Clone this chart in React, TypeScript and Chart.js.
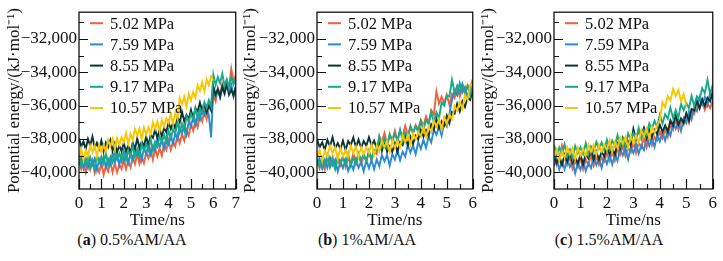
import React, { useEffect, useRef } from "react";
import { Chart, registerables } from "chart.js";

Chart.register(...registerables);

const FONT = "'Liberation Serif', 'Times New Roman', serif";

// Pressure series (legend order) and their colours
const SERIES_LABELS = ["5.02 MPa", "7.59 MPa", "8.55 MPa", "9.17 MPa", "10.57 MPa"];
const SERIES_COLORS = ["#f2603c", "#2a8ad6", "#0c3434", "#17a98a", "#f9c600"];

// Sampling interval of the trajectories (ns)
const SAMPLE_STEP_NS = 0.1;

// Axes
const Y_TICKS = [-40000, -38000, -36000, -34000, -32000];
const Y_MIN = -41000;
const Y_MAX = -30400;
const X_TICKS_A = [0, 1, 2, 3, 4, 5, 6, 7];
const X_TICKS_BC = [0, 1, 2, 3, 4, 5, 6];

const CAPTION_TAGS = ["a", "b", "c"];
const CAPTION_TEXTS = ["0.5%AM/AA", "1%AM/AA", "1.5%AM/AA"];

// ---- (a) 0.5% AM/AA, potential energy (kJ/mol), 0–7 ns ----
const A_502 = [
  -39250, -39800, -39400, -40000, -39400, -39850, -39350, -40050, -39650, -40000,
  -39450, -40150, -39600, -39950, -39350, -40000, -39450, -40000, -39550, -39800,
  -39200, -39800, -39300, -39700, -39100, -39500, -38900, -39500, -39050, -39450,
  -38800, -39150, -38650, -39250, -38600, -39050, -38550, -39000, -38300, -38650,
  -38100, -38650, -38150, -38450, -37750, -38250, -37700, -38100, -37450, -37800,
  -37100, -37500, -36900, -37300, -36550, -36950, -36300, -36800, -35850, -36200,
  -35400, -35750, -34950, -35350, -34700, -35050, -34500, -34900, -33800, -34600, -34150,
];
const A_759 = [
  -39550, -39130, -39760, -39240, -39720, -39100, -39540, -39180, -39870, -39210,
  -39600, -39070, -39690, -39210, -39530, -38850, -39370, -38990, -39560, -38880,
  -39350, -38870, -39440, -38860, -39280, -38600, -39000, -38600, -39250, -38550,
  -38900, -38340, -38930, -38420, -38710, -38000, -38480, -38060, -38590, -37870,
  -38300, -37770, -38290, -37660, -38030, -37300, -37630, -37160, -37740, -36970,
  -37250, -36640, -37180, -36620, -36860, -36100, -36550, -36100, -36600, -37900,
  -35050, -35490, -34980, -35520, -34910, -35300, -34650, -35100, -34750, -35450, -34800,
];
const A_855 = [
  -37950, -38450, -38150, -38600, -38000, -38400, -37860, -38520, -38230, -38590,
  -38100, -38730, -38210, -38490, -38070, -38700, -38270, -38790, -38410, -38730,
  -38250, -38730, -38410, -38840, -38220, -38600, -37970, -38540, -38160, -38430,
  -37850, -38380, -37760, -37940, -37420, -37950, -37420, -37840, -37360, -37580,
  -37000, -37410, -37020, -37380, -36690, -37000, -36370, -36940, -36560, -36830,
  -36250, -36780, -36160, -36340, -35820, -36350, -35900, -36400, -36000, -36300,
  -34850, -35340, -35030, -35470, -34860, -35250, -34700, -35350, -35050, -35400, -34900,
];
const A_917 = [
  -39000, -39630, -39160, -39540, -38970, -39700, -39270, -39790, -39010, -39430,
  -39050, -39470, -38840, -39560, -39080, -39400, -38820, -39240, -38860, -39330,
  -38700, -39260, -38720, -39030, -38390, -39050, -38600, -39100, -38300, -38700,
  -38300, -38680, -38010, -38690, -38170, -38450, -37820, -38190, -37760, -38180,
  -37500, -38010, -37420, -37680, -36990, -37600, -37080, -37510, -36640, -36970,
  -36500, -36840, -36130, -36770, -36210, -36450, -35790, -36130, -35670, -36050,
  -34150, -34770, -34290, -34660, -34080, -34800, -34420, -34990, -34260, -34730, -34400,
];
const A_1057 = [
  -39150, -38610, -39270, -38680, -39040, -38400, -38800, -38400, -39050, -38350,
  -38800, -38350, -38750, -38050, -38450, -38000, -38600, -37950, -38350, -37900,
  -38200, -37650, -38300, -37700, -38050, -37400, -37790, -37380, -38020, -37310,
  -37750, -37300, -37700, -37000, -37400, -36950, -37530, -36860, -37240, -36770,
  -37050, -36480, -37100, -36470, -36800, -35550, -35900, -35450, -36050, -35300,
  -35700, -35190, -35530, -34770, -35110, -34600, -35140, -34430, -34770, -34250, -34500,
];

// ---- (b) 1% AM/AA, 0–6 ns ----
const B_502 = [
  -39250, -39750, -39300, -39850, -39200, -39600, -39070, -39740, -39260, -39580,
  -39000, -39680, -39110, -39440, -38870, -39500, -38970, -39490, -39060, -39330,
  -38850, -39280, -38750, -38900, -37850, -38200, -37650, -38300, -37800, -38100,
  -37500, -38140, -37530, -37820, -37210, -37800, -37210, -37670, -37180, -37390,
  -36850, -37220, -36640, -37060, -36280, -36550, -35150, -35880, -35460, -35860,
  -35350, -35950, -35300, -35550, -34900, -35450, -34840, -35280, -34770, -34960, -34400,
];
const B_759 = [
  -39600, -39170, -39790, -39260, -39730, -39100, -39570, -39240, -39960, -39330,
  -39750, -39260, -39920, -39480, -39840, -39200, -39730, -39360, -39940, -39270,
  -39750, -39260, -39820, -39230, -39640, -38950, -39350, -38950, -39600, -38900,
  -39250, -38690, -39280, -38770, -39060, -38350, -38820, -38390, -38910, -38180,
  -38600, -38040, -38530, -37870, -38210, -37450, -37750, -37250, -37800, -37000,
  -37250, -36500, -35650, -35120, -35390, -34650, -35220, -34890, -35510, -34880, -35400,
];
const B_855 = [
  -38000, -38500, -38200, -38650, -38050, -38450, -37900, -38550, -38250, -38600,
  -38100, -38690, -38130, -38370, -37910, -38500, -38040, -38530, -38120, -38410,
  -37900, -38400, -38100, -38550, -38150, -38700, -38130, -38760, -38440, -38770,
  -38250, -38790, -38180, -38370, -37860, -38400, -37870, -38290, -37810, -38030,
  -37450, -37860, -37470, -37830, -37140, -37450, -36800, -37350, -36950, -37200,
  -36600, -37060, -36370, -36480, -35890, -36350, -35740, -36080, -35520, -35660, -35000,
];
const B_917 = [
  -39050, -39670, -39190, -39560, -38980, -39700, -39280, -39810, -39040, -39470,
  -39100, -39520, -38890, -39610, -39130, -39450, -38860, -39270, -38880, -39340,
  -38700, -39220, -38650, -38700, -37850, -38450, -38000, -38500, -37700, -38100,
  -37700, -38090, -37430, -38120, -37610, -37900, -37270, -37640, -37210, -37630,
  -36950, -37450, -36850, -37100, -36400, -37000, -36400, -36750, -35800, -36000,
  -35400, -35450, -34450, -35230, -34810, -35200, -34680, -35160, -34840, -35370, -34800,
];
const B_1057 = [
  -39200, -38650, -39300, -38700, -39050, -38400, -38850, -38500, -39200, -38550,
  -39050, -38640, -39080, -38420, -38860, -38450, -39090, -38480, -38920, -38510,
  -38850, -38310, -38970, -38380, -38740, -38100, -38510, -38120, -38780, -38090,
  -38550, -38100, -38500, -37800, -38200, -37750, -38330, -37660, -38040, -37570,
  -37850, -37270, -37890, -37260, -37580, -36900, -37260, -36820, -37430, -36690,
  -37100, -36540, -36830, -36020, -36310, -35750, -36200, -35400, -35650, -34800, -34700,
];

// ---- (c) 1.5% AM/AA, 0–6 ns ----
const C_502 = [
  -39050, -39580, -39160, -38400, -39120, -39550, -39060, -39770, -39330, -39690,
  -39150, -39820, -39240, -39560, -38980, -39600, -39050, -39550, -39100, -39350,
  -38850, -39300, -38800, -39300, -38600, -38950, -38390, -39030, -38520, -38810,
  -38200, -38840, -38230, -38520, -37910, -38500, -37910, -38370, -37880, -38090,
  -37550, -37960, -37420, -37880, -37140, -37450, -36850, -37450, -36900, -37150,
  -36500, -37030, -36310, -36500, -35750, -36200, -35700, -36250, -35850, -36150, -35700,
];
const C_759 = [
  -39600, -39190, -39830, -39320, -39810, -39200, -39670, -39340, -40060, -39430,
  -39850, -39310, -39920, -39430, -39740, -39050, -39560, -39170, -39730, -39040,
  -39500, -38990, -39530, -38920, -39310, -38600, -38990, -38580, -39220, -38510,
  -38850, -38290, -38880, -38370, -38660, -37950, -38410, -37970, -38480, -37740,
  -38150, -37600, -38100, -37450, -37800, -37050, -37390, -36930, -37520, -36760,
  -37050, -36360, -36820, -36180, -36340, -35500, -35940, -35480, -35970, -35210, -35600,
];
const C_855 = [
  -38950, -39440, -39130, -39570, -38960, -39350, -38790, -39430, -39120, -39460,
  -38950, -39520, -38940, -39160, -38680, -39250, -38760, -39220, -38780, -39040,
  -38500, -38930, -38560, -38940, -38270, -38600, -37960, -38520, -38130, -38400,
  -37400, -38020, -37490, -37760, -37330, -37950, -37450, -37900, -37450, -37700,
  -37150, -37570, -37190, -37560, -36880, -37200, -36570, -37140, -36760, -37030,
  -36450, -36900, -36200, -36300, -35700, -36150, -35610, -36020, -35530, -35740, -35150,
];
const C_917 = [
  -38350, -38980, -38510, -38890, -38320, -39050, -38640, -39180, -38420, -38860,
  -38500, -38900, -38250, -38950, -38450, -38750, -38170, -38590, -38210, -38680,
  -38050, -38620, -38090, -38410, -37780, -38450, -37990, -38480, -37670, -38060,
  -37650, -38020, -37340, -38010, -37480, -37750, -37070, -37390, -36910, -37280,
  -36550, -37080, -36510, -36790, -36120, -36750, -36270, -36740, -35910, -36280,
  -35850, -36160, -35420, -36030, -35440, -35650, -34950, -35250, -34450, -35300, -34750,
];
const C_1057 = [
  -39150, -38630, -39310, -38740, -39120, -38500, -38920, -38540, -39210, -38530,
  -39000, -38580, -39010, -38340, -38770, -38350, -38970, -38340, -38760, -38330,
  -38650, -38110, -38770, -38180, -38540, -37900, -38290, -37880, -38520, -37810,
  -38250, -37790, -38180, -37470, -37860, -37400, -37960, -37270, -37630, -37150,
  -36900, -35800, -36100, -35430, -35710, -35000, -35430, -35060, -35750, -35300, -36000,
];

type PanelSpec = {
  left: number;
  width: number;
  yAxisWidth: number;
  xMax: number;
  xTicks: number[];
  series: number[][];
};

const CANVAS_H = 231;
const PLOT_TOP = 6;
const X_AXIS_H = 42;

const PANELS: PanelSpec[] = [
  { left: 0, width: 244, yAxisWidth: 79, xMax: 7, xTicks: X_TICKS_A, series: [A_502, A_759, A_855, A_917, A_1057] },
  { left: 236, width: 245, yAxisWidth: 81, xMax: 6, xTicks: X_TICKS_BC, series: [B_502, B_759, B_855, B_917, B_1057] },
  { left: 474, width: 247, yAxisWidth: 80, xMax: 6, xTicks: X_TICKS_BC, series: [C_502, C_759, C_855, C_917, C_1057] },
];

const CAPTION_CENTERS = [132, 367, 609];

const formatEnergy = (v: number) =>
  (v < 0 ? "\u2212" : "") + Math.abs(v).toLocaleString("en-US");

// Box frame, inward major/minor ticks and the in-plot legend
const frameLegendPlugin = {
  id: "frameLegend",
  afterDraw(chart: any) {
    const { ctx, chartArea: a, scales } = chart;
    const xs = scales.x;
    const ys = scales.y;
    const xTicks: number[] = (xs.ticks || []).map((t: any) => t.value);
    ctx.save();
    ctx.strokeStyle = "#111";
    ctx.lineWidth = 1.3;
    ctx.strokeRect(a.left, a.top, a.right - a.left, a.bottom - a.top);

    ctx.lineWidth = 1.2;
    ctx.beginPath();
    xTicks.forEach((v, i) => {
      const px = Math.round(xs.getPixelForValue(v)) + 0.5;
      ctx.moveTo(px, a.bottom);
      ctx.lineTo(px, a.bottom - 10);
      if (i < xTicks.length - 1) {
        const mx = Math.round(xs.getPixelForValue((v + xTicks[i + 1]) / 2)) + 0.5;
        ctx.moveTo(mx, a.bottom);
        ctx.lineTo(mx, a.bottom - 5);
      }
    });
    Y_TICKS.forEach((v, i) => {
      const py = Math.round(ys.getPixelForValue(v)) + 0.5;
      ctx.moveTo(a.left, py);
      ctx.lineTo(a.left + 9, py);
      const next = i < Y_TICKS.length - 1 ? Y_TICKS[i + 1] : v + (v - Y_TICKS[i - 1]);
      const mid = (v + next) / 2;
      if (mid < Y_MAX) {
        const my = Math.round(ys.getPixelForValue(mid)) + 0.5;
        ctx.moveTo(a.left, my);
        ctx.lineTo(a.left + 5, my);
      }
    });
    ctx.stroke();

    ctx.font = `16.5px ${FONT}`;
    ctx.textBaseline = "middle";
    ctx.textAlign = "left";
    SERIES_LABELS.forEach((label, i) => {
      const y = a.top + 11 + i * 21.2;
      ctx.strokeStyle = SERIES_COLORS[i];
      ctx.lineWidth = 2;
      ctx.beginPath();
      ctx.moveTo(a.left + 11, y);
      ctx.lineTo(a.left + 24, y);
      ctx.stroke();
      ctx.fillStyle = "#111";
      ctx.fillText(label, a.left + 31, y + 1);
    });
    ctx.restore();
  },
};

function Panel({ spec }: { spec: PanelSpec }) {
  const ref = useRef<HTMLCanvasElement>(null);
  useEffect(() => {
    const chart: any = new Chart(ref.current!, {
      type: "line",
      data: {
        datasets: spec.series.map((vals, i) => ({
          label: SERIES_LABELS[i],
          data: vals.map((y, k) => ({ x: Math.round(k * SAMPLE_STEP_NS * 100) / 100, y })),
          borderColor: SERIES_COLORS[i],
          backgroundColor: SERIES_COLORS[i],
          borderWidth: 1.9,
          pointRadius: 0,
          tension: 0,
          order: SERIES_LABELS.length - i,
        })),
      },
      options: {
        responsive: false,
        animation: false,
        devicePixelRatio: 1,
        events: [],
        layout: { padding: { left: 0, right: 8, top: PLOT_TOP, bottom: 0 } },
        plugins: { legend: { display: false }, tooltip: { enabled: false } },
        scales: {
          x: {
            type: "linear",
            min: 0,
            max: spec.xMax,
            afterBuildTicks: (s: any) => {
              s.ticks = spec.xTicks.map((v) => ({ value: v }));
            },
            afterFit: (s: any) => {
              s.height = X_AXIS_H;
            },
            grid: { display: false, drawTicks: false },
            border: { display: false },
            ticks: { color: "#111", font: { family: FONT, size: 17 }, padding: 4, maxRotation: 0 },
            title: {
              display: true,
              text: "Time/ns",
              color: "#111",
              font: { family: FONT, size: 17 },
              padding: { top: 0, bottom: 0 },
            },
          },
          y: {
            type: "linear",
            min: Y_MIN,
            max: Y_MAX,
            afterBuildTicks: (s: any) => {
              s.ticks = Y_TICKS.map((v) => ({ value: v }));
            },
            afterFit: (s: any) => {
              s.width = spec.yAxisWidth;
            },
            grid: { display: false, drawTicks: false },
            border: { display: false },
            ticks: {
              color: "#111",
              font: { family: FONT, size: 17 },
              padding: 2,
              callback: (v: any) => formatEnergy(Number(v)),
            },
            title: {
              display: true,
              text: "Potential energy/(kJ\u00b7mol\u207b\u00b9)",
              color: "#111",
              font: { family: FONT, size: 17 },
              padding: { top: 4, bottom: 0 },
            },
          },
        },
      },
      plugins: [frameLegendPlugin],
    } as any);
    return () => chart.destroy();
  }, [spec]);
  return (
    <canvas
      ref={ref}
      width={spec.width}
      height={CANVAS_H}
      style={{ position: "absolute", left: spec.left, top: 0, width: spec.width, height: CANVAS_H }}
    />
  );
}

export default function App() {
  return (
    <div
      style={{
        position: "fixed",
        left: 0,
        top: 0,
        width: 723,
        height: 261,
        background: "#fff",
        overflow: "hidden",
      }}
    >
      {PANELS.map((p, i) => (
        <Panel key={i} spec={p} />
      ))}
      {CAPTION_TAGS.map((tag, i) => (
        <div
          key={tag}
          style={{
            position: "absolute",
            left: CAPTION_CENTERS[i] - 100,
            width: 200,
            top: 231,
            lineHeight: "18px",
            textAlign: "center",
            fontFamily: FONT,
            fontSize: 16,
            color: "#111",
            whiteSpace: "nowrap",
          }}
        >
          (<b>{tag}</b>) {CAPTION_TEXTS[i]}
        </div>
      ))}
    </div>
  );
}
